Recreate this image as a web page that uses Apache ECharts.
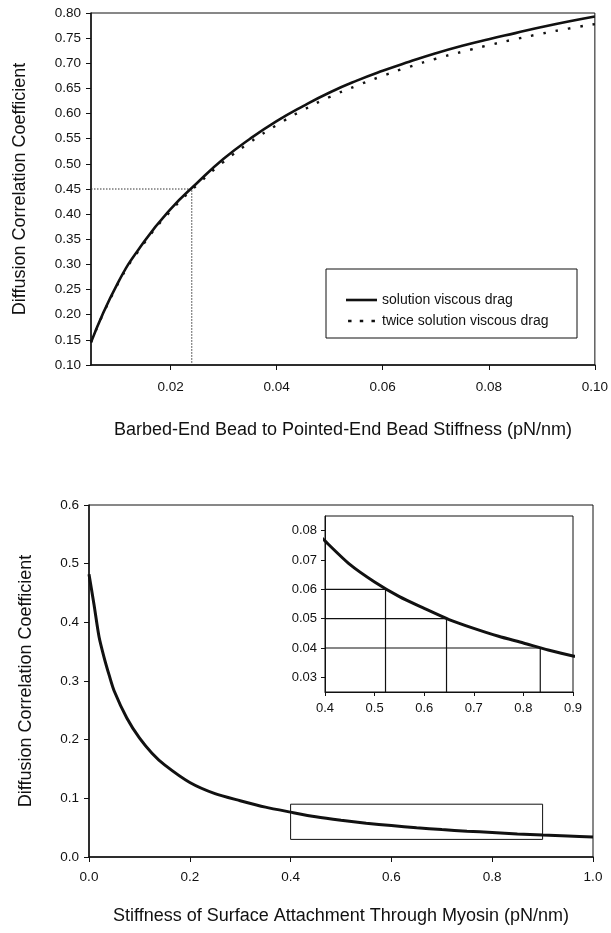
<!DOCTYPE html>
<html>
<head>
<meta charset="utf-8">
<script src="https://cdn.jsdelivr.net/npm/echarts@6/dist/echarts.min.js"></script>
<style>
  html, body { margin: 0; padding: 0; background: #fff; }
  #chart { width: 611px; height: 933px; }
</style>
</head>
<body>
<div id="chart"></div>
<script>
// top panel: barbed-end to pointed-end stiffness
var beadStiffness = [0.005, 0.01, 0.015, 0.02, 0.025, 0.03, 0.035, 0.04, 0.045, 0.05,
  0.055, 0.06, 0.065, 0.07, 0.075, 0.08, 0.085, 0.09, 0.095, 0.1]
var solutionDrag = [0.145, 0.262, 0.345, 0.41, 0.462, 0.51, 0.55, 0.585, 0.615, 0.642,
  0.665, 0.685, 0.703, 0.72, 0.735, 0.748, 0.76, 0.772, 0.783, 0.793]
var twiceDrag = [0.145, 0.26, 0.342, 0.406, 0.458, 0.504, 0.543, 0.577, 0.607, 0.633,
  0.655, 0.675, 0.693, 0.709, 0.723, 0.736, 0.748, 0.759, 0.769, 0.778]
var topRefX = [0.005, 0.024, 0.024]
var topRefY = [0.45, 0.45, 0.10]
var topXTicks = [0.02, 0.04, 0.06, 0.08, 0.10]

// bottom panel: surface attachment stiffness
var myosinStiffness = [0, 0.01, 0.02, 0.03, 0.04, 0.05, 0.075, 0.1, 0.125, 0.15, 0.2, 0.25,
  0.3, 0.35, 0.4, 0.45, 0.5, 0.55, 0.6, 0.65, 0.7, 0.75, 0.8, 0.85, 0.9, 0.95, 1.0]
var myosinCoeff = [0.482, 0.43, 0.375, 0.34, 0.31, 0.283, 0.237, 0.203, 0.177, 0.157, 0.127, 0.108,
  0.096, 0.085, 0.0765, 0.0685, 0.0625, 0.0575, 0.0535, 0.0497, 0.0467, 0.044, 0.0417, 0.0393, 0.0373, 0.0357, 0.034]
var zoomBoxX = [0.4, 0.9, 0.9, 0.4, 0.4]
var zoomBoxY = [0.03, 0.03, 0.09, 0.09, 0.03]

// inset reference lines (level -> stiffness)
var insetLevels = [0.06, 0.05, 0.04]
var insetCross = [0.522, 0.645, 0.834]
var insetYTicks = [0.03, 0.04, 0.05, 0.06, 0.07, 0.08]

function pairs (xs, ys) {
  return xs.map(function (x, i) { return [x, ys[i]] })
}

var font = 'Liberation Sans, Arial, Helvetica, sans-serif'
var black = '#111'

function axisBase () {
  return {
    axisLine: { show: true, onZero: false, lineStyle: { color: black, width: 1.5 } },
    axisTick: { show: true, inside: false, length: 5, lineStyle: { color: black, width: 1 } },
    splitLine: { show: false },
    axisLabel: { color: black, fontSize: 13.5, fontFamily: font },
    nameTextStyle: { color: black, fontSize: 18, fontFamily: font }
  }
}

function merge (a, b) {
  return Object.assign(a, b)
}

var series = [
  {
    name: 'solution viscous drag',
    type: 'line',
    xAxisIndex: 0,
    yAxisIndex: 0,
    data: pairs(beadStiffness, solutionDrag),
    smooth: true,
    symbol: 'none',
    lineStyle: { color: black, width: 2.6 },
    itemStyle: { color: black },
    z: 5
  },
  {
    name: 'twice solution viscous drag',
    type: 'line',
    xAxisIndex: 0,
    yAxisIndex: 0,
    data: pairs(beadStiffness, twiceDrag),
    smooth: true,
    symbol: 'none',
    lineStyle: { color: black, width: 2.4, type: [2.5, 10] },
    itemStyle: { color: black },
    z: 4
  },
  {
    type: 'line',
    xAxisIndex: 0,
    yAxisIndex: 0,
    data: pairs(topRefX, topRefY),
    symbol: 'none',
    lineStyle: { color: '#333', width: 1, type: [1.5, 1.5] },
    silent: true,
    z: 3
  },
  {
    type: 'line',
    xAxisIndex: 1,
    yAxisIndex: 1,
    data: pairs(myosinStiffness, myosinCoeff),
    symbol: 'none',
    smooth: 0.25,
    lineStyle: { color: black, width: 3 },
    z: 5
  },
  {
    type: 'line',
    xAxisIndex: 1,
    yAxisIndex: 1,
    data: pairs(zoomBoxX, zoomBoxY),
    symbol: 'none',
    lineStyle: { color: black, width: 1 },
    z: 4
  },
  {
    type: 'line',
    xAxisIndex: 2,
    yAxisIndex: 2,
    data: pairs(myosinStiffness, myosinCoeff),
    symbol: 'none',
    smooth: 0.25,
    lineStyle: { color: black, width: 3 },
    z: 5
  }
]

insetLevels.forEach(function (lvl, i) {
  series.push({
    type: 'line',
    xAxisIndex: 2,
    yAxisIndex: 2,
    data: [[0.4, lvl], [insetCross[i], lvl], [insetCross[i], 0.025]],
    symbol: 'none',
    lineStyle: { color: black, width: 1.2 },
    z: 4
  })
})

var option = {
  backgroundColor: '#fff',
  animation: false,
  textStyle: { fontFamily: font },
  grid: [
    { left: 91, top: 13, width: 505, height: 352, show: true, borderColor: black, borderWidth: 1, backgroundColor: 'transparent' },
    { left: 89, top: 505, width: 504, height: 352, show: true, borderColor: black, borderWidth: 1, backgroundColor: 'transparent' },
    { left: 325, top: 516, width: 248, height: 176, show: true, borderColor: black, borderWidth: 1, backgroundColor: '#fff' }
  ],
  legend: {
    data: [
      { name: 'solution viscous drag', icon: 'rect' },
      { name: 'twice solution viscous drag', icon: 'path://M0,0h4v3h-4zM13.5,0h4v3h-4zM27,0h4v3h-4z' }
    ],
    orient: 'vertical',
    left: 346,
    top: 293,
    padding: 0,
    itemWidth: 31,
    itemHeight: 2.6,
    itemGap: 7,
    itemStyle: { color: black },
    textStyle: { color: black, fontSize: 14, fontFamily: font }
  },
  graphic: [
    { type: 'rect', shape: { x: 326, y: 269, width: 251, height: 69 }, style: { fill: 'none', stroke: black, lineWidth: 1 }, z: 10 }
  ],
  xAxis: [
    merge(axisBase(), {
      gridIndex: 0,
      type: 'value',
      min: 0.005,
      max: 0.1,
      name: 'Barbed-End Bead to Pointed-End Bead Stiffness (pN/nm)',
      nameLocation: 'middle',
      nameGap: 56,
      axisTick: { show: true, length: 5, customValues: topXTicks, lineStyle: { color: black } },
      axisLabel: { color: black, fontSize: 13.5, fontFamily: font, margin: 15, customValues: topXTicks, formatter: function (v) { return v.toFixed(2) } }
    }),
    merge(axisBase(), {
      gridIndex: 1,
      type: 'value',
      min: 0,
      max: 1,
      interval: 0.2,
      name: 'Stiffness of Surface Attachment Through Myosin (pN/nm)',
      nameLocation: 'middle',
      nameGap: 50,
      axisLabel: { color: black, fontSize: 13.5, fontFamily: font, margin: 13, formatter: function (v) { return v.toFixed(1) } }
    }),
    merge(axisBase(), {
      gridIndex: 2,
      type: 'value',
      min: 0.4,
      max: 0.9,
      interval: 0.1,
      axisLine: { show: true, onZero: false, lineStyle: { color: black, width: 1 } },
      axisTick: { show: true, length: 4, lineStyle: { color: black } },
      axisLabel: { color: black, fontSize: 13, fontFamily: font, margin: 10, formatter: function (v) { return v.toFixed(1) } }
    })
  ],
  yAxis: [
    merge(axisBase(), {
      gridIndex: 0,
      type: 'value',
      min: 0.1,
      max: 0.8,
      interval: 0.05,
      name: 'Diffusion Correlation Coefficient',
      nameLocation: 'middle',
      nameGap: 62,
      axisLabel: { color: black, fontSize: 13.5, fontFamily: font, margin: 10, formatter: function (v) { return v.toFixed(2) } }
    }),
    merge(axisBase(), {
      gridIndex: 1,
      type: 'value',
      min: 0,
      max: 0.6,
      interval: 0.1,
      name: 'Diffusion Correlation Coefficient',
      nameLocation: 'middle',
      nameGap: 54,
      axisLabel: { color: black, fontSize: 13.5, fontFamily: font, margin: 10, formatter: function (v) { return v.toFixed(1) } }
    }),
    merge(axisBase(), {
      gridIndex: 2,
      type: 'value',
      min: 0.025,
      max: 0.085,
      axisLine: { show: true, onZero: false, lineStyle: { color: black, width: 1 } },
      axisTick: { show: true, length: 4, customValues: insetYTicks, lineStyle: { color: black } },
      axisLabel: { color: black, fontSize: 13, fontFamily: font, margin: 8, customValues: insetYTicks, formatter: function (v) { return v.toFixed(2) } }
    })
  ],
  series: series
}

var chart = echarts.init(document.getElementById('chart'))
chart.setOption(option)
</script>
</body>
</html>
